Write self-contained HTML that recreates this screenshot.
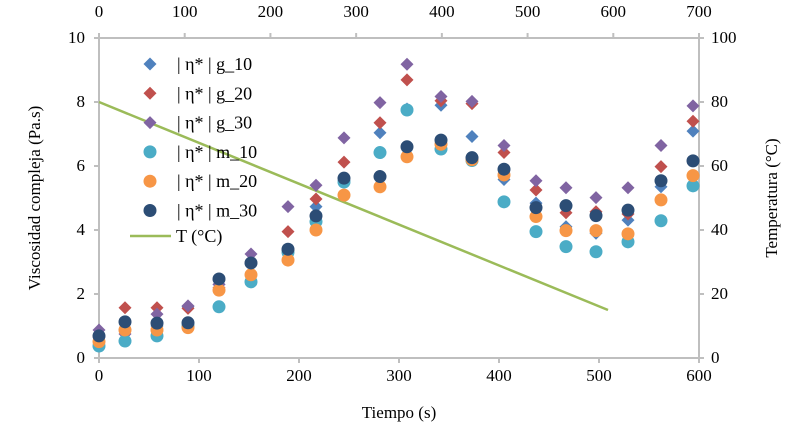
<!DOCTYPE html>
<html><head><meta charset="utf-8"><style>
body{margin:0;background:#fff}
svg{font-family:"Liberation Serif",serif;}
</style></head><body>
<svg id="chart" width="790" height="432" viewBox="0 0 790 432"></svg>
<script>
const times=[0,26,58,89,120,152,189,217,245,281,308,342,373,405,437,467,497,529,562,594];
const g10=[0.7,0.9,1.0,1.6,2.3,2.95,3.35,4.73,5.55,7.04,7.78,7.9,6.92,5.58,4.84,4.1,3.9,4.31,5.35,7.09];
const g20=[0.65,1.57,1.57,1.55,2.2,3.0,3.95,4.97,6.12,7.35,8.69,8.04,7.95,6.42,5.25,4.54,4.57,4.5,5.98,7.4];
const g30=[0.875,0.75,1.37,1.63,2.3,3.25,4.73,5.4,6.88,7.98,9.18,8.17,8.02,6.64,5.54,5.32,5.01,5.32,6.64,7.88];
const m10=[0.375,0.53,0.69,1.0,1.6,2.38,3.3,4.26,5.5,6.42,7.75,6.53,6.17,4.88,3.95,3.48,3.32,3.63,4.29,5.38];
const m20=[0.51,0.875,0.875,0.95,2.12,2.6,3.06,4.0,5.09,5.35,6.29,6.68,6.2,5.72,4.42,3.98,3.98,3.88,4.94,5.7];
const m30=[0.69,1.13,1.09,1.1,2.47,2.97,3.4,4.44,5.62,5.67,6.6,6.81,6.26,5.9,4.7,4.76,4.45,4.62,5.54,6.16];
const tempTimes=[0,509];
const tempVals=[80,15];
const xTicks=[0,100,200,300,400,500,600];
const yTicks=[0,2,4,6,8,10];
const x2Ticks=[0,100,200,300,400,500,600,700];
const y2Ticks=[0,20,40,60,80,100];
const seriesNames=["| η* | g_10","| η* | g_20","| η* | g_30","| η* | m_10","| η* | m_20","| η* | m_30"];

const X0=99,X1=699,Y0=358,Y1=38;
const sx=t=>X0+(t/600)*(X1-X0);
const sy=v=>Y0-(v/10)*(Y0-Y1);
const sx2=t=>X0+(t/700)*(X1-X0);
const sy2=v=>Y0-(v/100)*(Y0-Y1);
const svg=document.getElementById('chart');
const NS='http://www.w3.org/2000/svg';
function mk(tag,attrs,parent){const e=document.createElementNS(NS,tag);for(const k in attrs)e.setAttribute(k,attrs[k]);(parent||svg).appendChild(e);return e;}
function txt(x,y,s,anchor,size){const t=mk('text',{x:x,y:y,'text-anchor':anchor||'middle','font-size':size||17,fill:'#000'});t.textContent=s;return t;}

const axes=mk('g',{stroke:'#bfbfbf','stroke-width':2,fill:'none'});


mk('line',{x1:X0,y1:Y0,x2:X1,y2:Y0},axes);
mk('line',{x1:X0,y1:Y1,x2:X0,y2:Y0},axes);
mk('line',{x1:X0,y1:Y1,x2:X1,y2:Y1},axes);
mk('line',{x1:X1,y1:Y1,x2:X1,y2:Y0},axes);
xTicks.forEach(t=>{mk('line',{x1:sx(t),y1:Y0,x2:sx(t),y2:Y0+5},axes);const l=txt(sx(t),Y0+23,String(t));});
yTicks.forEach(v=>{mk('line',{x1:X0-5,y1:sy(v),x2:X0,y2:sy(v)},axes);const l=txt(X0-14,sy(v)+5,String(v),'end');});
x2Ticks.forEach(t=>{mk('line',{x1:sx2(t),y1:Y1-5,x2:sx2(t),y2:Y1},axes);const l=txt(sx2(t),Y1-21,String(t));});
y2Ticks.forEach(v=>{mk('line',{x1:X1,y1:sy2(v),x2:X1+5,y2:sy2(v)},axes);const l=txt(X1+12,sy2(v)+5,String(v),'start');});

let t1=txt(399,418,'Tiempo (s)');
let t2=txt(0,0,'Viscosidad compleja (Pa.s)');t2.setAttribute('transform','translate(40,198) rotate(-90)');

let t3=txt(0,0,'Temperatura (°C)');t3.setAttribute('transform','translate(777,198) rotate(-90)');


const line=mk('line',{x1:sx(tempTimes[0]),y1:sy2(tempVals[0]),x2:sx(tempTimes[1]),y2:sy2(tempVals[1]),stroke:'#9bbb59','stroke-width':2.5});



const colors=['#4f81bd','#c0504d','#8064a2','#4bacc6','#f79646','#2c4d75'];
const data=[g10,g20,g30,m10,m20,m30];
function marker(kind,x,y,c,parent){
  if(kind==='d') return mk('polygon',{points:`${x},${y-6.5} ${x+6.5},${y} ${x},${y+6.5} ${x-6.5},${y}`,fill:c},parent);
  return mk('circle',{cx:x,cy:y,r:6.5,fill:c},parent);
}
data.forEach((arr,si)=>{
  const g=mk('g',{});
  
  
  arr.forEach((v,i)=>{
    const m=marker(si<3?'d':'c',sx(times[i]),sy(v),colors[si],g);
    
    
  });
});

const lg=mk('g',{});


seriesNames.forEach((n,i)=>{
  const y=64+i*29.3;
  const m=marker(i<3?'d':'c',150,y,colors[i],lg);
  
  
  const t=mk('text',{x:177,y:y+6,'font-size':18,fill:'#000','xml:space':'preserve'},lg);
  t.textContent=n;
  
  
});
const ll=mk('line',{x1:130,y1:236,x2:171,y2:236,stroke:'#9bbb59','stroke-width':2.5},lg);


const lt=mk('text',{x:176,y:242,'font-size':18,fill:'#000'},lg);
lt.textContent='T (°C)';


</script>
</body></html>
